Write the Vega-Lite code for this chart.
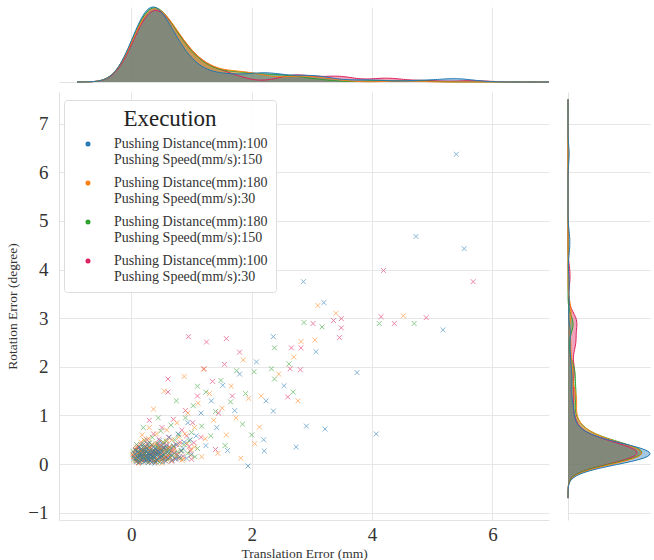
{
  "$schema": "https://vega.github.io/schema/vega-lite/v6.json",
  "padding": {"left": 5, "top": 5, "right": 2, "bottom": 0},
  "background": "white",
  "config": {
    "font": "Liberation Serif",
    "view": {"stroke": null},
    "axis": {
      "gridColor": "#e6e6e6", "gridWidth": 1,
      "domainColor": "#e2e2e2", "tickColor": "#e2e2e2",
      "labelFont": "Liberation Serif", "titleFont": "Liberation Serif",
      "labelColor": "#333333", "titleColor": "#333333", "titleFontWeight": "normal"
    }
  },
  "datasets": {
    "series": [
      {"s": "A", "label": "Pushing Distance(mm):100|Pushing Speed(mm/s):150"},
      {"s": "B", "label": "Pushing Distance(mm):180|Pushing Speed(mm/s):30"},
      {"s": "C", "label": "Pushing Distance(mm):180|Pushing Speed(mm/s):150"},
      {"s": "D", "label": "Pushing Distance(mm):100|Pushing Speed(mm/s):30"}
    ],
    "pts": [
      {"s":"D","x":0.04,"y":0.15},{"s":"D","x":0.07,"y":0.30},{"s":"D","x":0.10,"y":0.06},{"s":"D","x":0.13,"y":0.22},{"s":"D","x":0.16,"y":0.40},{"s":"D","x":0.18,"y":0.10},{"s":"D","x":0.21,"y":0.28},{"s":"D","x":0.24,"y":0.16},{"s":"D","x":0.26,"y":0.50},{"s":"D","x":0.29,"y":0.04},{"s":"D","x":0.31,"y":0.33},{"s":"D","x":0.34,"y":0.19},{"s":"D","x":0.37,"y":0.62},{"s":"D","x":0.40,"y":0.25},{"s":"D","x":0.42,"y":0.09},{"s":"D","x":0.45,"y":0.42},{"s":"D","x":0.48,"y":0.20},{"s":"D","x":0.51,"y":0.75},{"s":"D","x":0.54,"y":0.34},{"s":"D","x":0.58,"y":0.14},{"s":"D","x":0.62,"y":0.55},{"s":"D","x":0.66,"y":0.27},{"s":"D","x":0.70,"y":0.92},{"s":"D","x":0.74,"y":0.40},{"s":"D","x":0.79,"y":0.12},{"s":"D","x":0.84,"y":0.70},{"s":"D","x":0.90,"y":1.10},{"s":"D","x":0.96,"y":0.36},{"s":"D","x":1.02,"y":0.85},{"s":"D","x":1.10,"y":1.40},{"s":"D","x":1.16,"y":0.55},{"s":"D","x":1.21,"y":1.96},{"s":"D","x":1.25,"y":2.51},{"s":"D","x":0.95,"y":2.62},{"s":"D","x":1.58,"y":2.58},{"s":"D","x":0.61,"y":1.75},{"s":"D","x":0.61,"y":1.48},{"s":"D","x":1.35,"y":1.70},{"s":"D","x":1.45,"y":1.05},{"s":"D","x":1.55,"y":2.05},{"s":"D","x":1.68,"y":1.40},{"s":"D","x":1.80,"y":2.30},{"s":"D","x":2.64,"y":1.96},{"s":"D","x":2.66,"y":2.39},{"s":"D","x":2.81,"y":1.94},{"s":"D","x":2.82,"y":2.39},{"s":"D","x":3.36,"y":2.95},{"s":"D","x":3.46,"y":2.60},{"s":"D","x":3.49,"y":2.99},{"s":"D","x":4.15,"y":3.03},{"s":"D","x":4.19,"y":3.98},{"s":"D","x":4.90,"y":3.01},{"s":"D","x":5.68,"y":3.75},{"s":"D","x":0.30,"y":0.90},{"s":"D","x":1.00,"y":0.10},{"s":"D","x":1.40,"y":0.30},{"s":"D","x":3.02,"y":2.89},{"s":"D","x":2.60,"y":1.38},{"s":"D","x":3.49,"y":2.80},{"s":"D","x":4.37,"y":2.89},
      {"s":"D","x":0.05,"y":0.22},{"s":"D","x":0.08,"y":0.12},{"s":"D","x":0.10,"y":0.35},{"s":"D","x":0.12,"y":0.03},{"s":"D","x":0.14,"y":0.18},{"s":"D","x":0.17,"y":0.28},{"s":"D","x":0.19,"y":0.07},{"s":"D","x":0.22,"y":0.21},{"s":"D","x":0.24,"y":0.34},{"s":"D","x":0.27,"y":0.13},{"s":"D","x":0.29,"y":0.24},{"s":"D","x":0.32,"y":0.09},{"s":"D","x":0.34,"y":0.39},{"s":"D","x":0.36,"y":0.16},{"s":"D","x":0.39,"y":0.28},{"s":"D","x":0.41,"y":0.04},{"s":"D","x":0.43,"y":0.20},{"s":"D","x":0.46,"y":0.51},{"s":"D","x":0.49,"y":0.31},{"s":"D","x":0.52,"y":0.10},{"s":"D","x":0.55,"y":0.24},{"s":"D","x":0.59,"y":0.40},{"s":"D","x":0.63,"y":0.17},{"s":"D","x":0.67,"y":0.06},{"s":"D","x":0.71,"y":0.30},{"s":"D","x":0.76,"y":0.21},{"s":"D","x":0.81,"y":0.45},{"s":"D","x":0.86,"y":0.16},{"s":"D","x":0.92,"y":0.58},{"s":"D","x":0.98,"y":0.27},{"s":"D","x":1.04,"y":0.44},{"s":"D","x":0.20,"y":0.18},{"s":"D","x":0.26,"y":0.42},{"s":"D","x":0.31,"y":0.20},{"s":"D","x":0.38,"y":0.07},{"s":"D","x":0.44,"y":0.27},{"s":"D","x":0.50,"y":0.38},{"s":"D","x":0.57,"y":0.12},{"s":"D","x":0.64,"y":0.36},{"s":"D","x":0.15,"y":0.28},{"s":"D","x":0.23,"y":0.09},{"s":"D","x":0.35,"y":0.25},{"s":"D","x":0.47,"y":0.15},{"s":"D","x":0.56,"y":0.30},{"s":"D","x":0.73,"y":0.11},
      {"s":"C","x":0.03,"y":0.26},{"s":"C","x":0.06,"y":0.11},{"s":"C","x":0.09,"y":0.40},{"s":"C","x":0.12,"y":0.18},{"s":"C","x":0.14,"y":0.05},{"s":"C","x":0.17,"y":0.32},{"s":"C","x":0.20,"y":0.14},{"s":"C","x":0.22,"y":0.48},{"s":"C","x":0.25,"y":0.24},{"s":"C","x":0.27,"y":0.08},{"s":"C","x":0.30,"y":0.36},{"s":"C","x":0.32,"y":0.16},{"s":"C","x":0.35,"y":0.55},{"s":"C","x":0.38,"y":0.27},{"s":"C","x":0.40,"y":0.06},{"s":"C","x":0.43,"y":0.42},{"s":"C","x":0.46,"y":0.20},{"s":"C","x":0.49,"y":0.68},{"s":"C","x":0.52,"y":0.31},{"s":"C","x":0.55,"y":0.12},{"s":"C","x":0.58,"y":0.47},{"s":"C","x":0.62,"y":0.22},{"s":"C","x":0.66,"y":0.80},{"s":"C","x":0.70,"y":0.36},{"s":"C","x":0.74,"y":0.14},{"s":"C","x":0.79,"y":0.60},{"s":"C","x":0.84,"y":0.28},{"s":"C","x":0.90,"y":0.95},{"s":"C","x":0.96,"y":0.48},{"s":"C","x":1.03,"y":1.20},{"s":"C","x":1.10,"y":0.32},{"s":"C","x":1.17,"y":0.78},{"s":"C","x":1.24,"y":1.48},{"s":"C","x":1.32,"y":0.58},{"s":"C","x":1.40,"y":1.08},{"s":"C","x":1.49,"y":1.72},{"s":"C","x":1.56,"y":0.38},{"s":"C","x":1.65,"y":1.28},{"s":"C","x":1.75,"y":1.92},{"s":"C","x":1.85,"y":0.82},{"s":"C","x":1.90,"y":1.45},{"s":"C","x":2.00,"y":0.60},{"s":"C","x":2.04,"y":1.90},{"s":"C","x":2.33,"y":1.96},{"s":"C","x":2.38,"y":1.75},{"s":"C","x":2.38,"y":2.39},{"s":"C","x":2.62,"y":2.06},{"s":"C","x":4.12,"y":2.89},{"s":"C","x":0.20,"y":0.75},{"s":"C","x":0.45,"y":0.95},{"s":"C","x":0.75,"y":1.30},{"s":"C","x":1.10,"y":1.60},{"s":"C","x":2.87,"y":2.91},{"s":"C","x":3.17,"y":2.82},{"s":"C","x":2.69,"y":1.48},{"s":"C","x":4.70,"y":2.89},
      {"s":"C","x":0.04,"y":0.18},{"s":"C","x":0.07,"y":0.06},{"s":"C","x":0.09,"y":0.29},{"s":"C","x":0.11,"y":0.13},{"s":"C","x":0.13,"y":0.24},{"s":"C","x":0.16,"y":0.09},{"s":"C","x":0.18,"y":0.38},{"s":"C","x":0.21,"y":0.20},{"s":"C","x":0.23,"y":0.11},{"s":"C","x":0.26,"y":0.30},{"s":"C","x":0.28,"y":0.03},{"s":"C","x":0.29,"y":0.22},{"s":"C","x":0.31,"y":0.44},{"s":"C","x":0.33,"y":0.12},{"s":"C","x":0.36,"y":0.26},{"s":"C","x":0.39,"y":0.17},{"s":"C","x":0.41,"y":0.35},{"s":"C","x":0.44,"y":0.07},{"s":"C","x":0.47,"y":0.29},{"s":"C","x":0.50,"y":0.16},{"s":"C","x":0.53,"y":0.45},{"s":"C","x":0.56,"y":0.24},{"s":"C","x":0.60,"y":0.09},{"s":"C","x":0.64,"y":0.34},{"s":"C","x":0.68,"y":0.18},{"s":"C","x":0.72,"y":0.50},{"s":"C","x":0.77,"y":0.25},{"s":"C","x":0.82,"y":0.12},{"s":"C","x":0.88,"y":0.40},{"s":"C","x":0.94,"y":0.22},{"s":"C","x":1.00,"y":0.65},{"s":"C","x":1.06,"y":0.15},{"s":"C","x":0.19,"y":0.28},{"s":"C","x":0.26,"y":0.15},{"s":"C","x":0.34,"y":0.40},{"s":"C","x":0.42,"y":0.22},{"s":"C","x":0.48,"y":0.05},{"s":"C","x":0.57,"y":0.32},{"s":"C","x":0.65,"y":0.14},{"s":"C","x":0.15,"y":0.20},{"s":"C","x":0.37,"y":0.10},{"s":"C","x":0.45,"y":0.33},{"s":"C","x":0.53,"y":0.19},{"s":"C","x":0.24,"y":0.36},{"s":"C","x":0.62,"y":0.27},
      {"s":"B","x":0.02,"y":0.20},{"s":"B","x":0.05,"y":0.08},{"s":"B","x":0.08,"y":0.33},{"s":"B","x":0.10,"y":0.15},{"s":"B","x":0.12,"y":0.02},{"s":"B","x":0.14,"y":0.25},{"s":"B","x":0.16,"y":0.45},{"s":"B","x":0.19,"y":0.12},{"s":"B","x":0.22,"y":0.30},{"s":"B","x":0.24,"y":0.06},{"s":"B","x":0.26,"y":0.19},{"s":"B","x":0.29,"y":0.52},{"s":"B","x":0.31,"y":0.27},{"s":"B","x":0.33,"y":0.11},{"s":"B","x":0.36,"y":0.38},{"s":"B","x":0.38,"y":0.18},{"s":"B","x":0.40,"y":0.03},{"s":"B","x":0.42,"y":0.62},{"s":"B","x":0.44,"y":0.24},{"s":"B","x":0.47,"y":0.35},{"s":"B","x":0.50,"y":0.09},{"s":"B","x":0.53,"y":0.44},{"s":"B","x":0.56,"y":0.20},{"s":"B","x":0.59,"y":0.70},{"s":"B","x":0.62,"y":0.31},{"s":"B","x":0.65,"y":0.13},{"s":"B","x":0.68,"y":0.50},{"s":"B","x":0.72,"y":0.24},{"s":"B","x":0.76,"y":0.85},{"s":"B","x":0.80,"y":0.40},{"s":"B","x":0.84,"y":0.08},{"s":"B","x":0.89,"y":0.62},{"s":"B","x":0.94,"y":1.05},{"s":"B","x":0.99,"y":0.30},{"s":"B","x":1.05,"y":0.75},{"s":"B","x":1.11,"y":1.25},{"s":"B","x":1.17,"y":0.15},{"s":"B","x":1.23,"y":0.52},{"s":"B","x":1.30,"y":1.45},{"s":"B","x":1.37,"y":0.90},{"s":"B","x":1.44,"y":0.22},{"s":"B","x":1.51,"y":1.15},{"s":"B","x":1.58,"y":0.60},{"s":"B","x":1.66,"y":1.60},{"s":"B","x":1.74,"y":0.95},{"s":"B","x":1.82,"y":0.12},{"s":"B","x":1.86,"y":2.14},{"s":"B","x":1.95,"y":1.35},{"s":"B","x":2.05,"y":0.42},{"s":"B","x":2.13,"y":0.76},{"s":"B","x":2.16,"y":1.40},{"s":"B","x":0.37,"y":1.13},{"s":"B","x":0.55,"y":1.50},{"s":"B","x":0.88,"y":1.80},{"s":"B","x":1.20,"y":1.95},{"s":"B","x":0.30,"y":0.75},{"s":"B","x":0.18,"y":0.60},{"s":"B","x":2.45,"y":1.85},{"s":"B","x":2.70,"y":2.20},{"s":"B","x":3.05,"y":2.55},{"s":"B","x":3.40,"y":3.10},{"s":"B","x":2.82,"y":2.52},{"s":"B","x":3.10,"y":3.26},{"s":"B","x":2.77,"y":1.30},{"s":"B","x":4.52,"y":3.05},
      {"s":"B","x":0.05,"y":0.16},{"s":"B","x":0.07,"y":0.27},{"s":"B","x":0.09,"y":0.08},{"s":"B","x":0.11,"y":0.22},{"s":"B","x":0.13,"y":0.36},{"s":"B","x":0.15,"y":0.12},{"s":"B","x":0.17,"y":0.04},{"s":"B","x":0.20,"y":0.24},{"s":"B","x":0.23,"y":0.15},{"s":"B","x":0.25,"y":0.38},{"s":"B","x":0.27,"y":0.09},{"s":"B","x":0.30,"y":0.20},{"s":"B","x":0.32,"y":0.31},{"s":"B","x":0.34,"y":0.05},{"s":"B","x":0.37,"y":0.26},{"s":"B","x":0.39,"y":0.14},{"s":"B","x":0.41,"y":0.42},{"s":"B","x":0.43,"y":0.10},{"s":"B","x":0.46,"y":0.29},{"s":"B","x":0.48,"y":0.18},{"s":"B","x":0.51,"y":0.02},{"s":"B","x":0.54,"y":0.33},{"s":"B","x":0.57,"y":0.13},{"s":"B","x":0.60,"y":0.48},{"s":"B","x":0.63,"y":0.21},{"s":"B","x":0.67,"y":0.07},{"s":"B","x":0.71,"y":0.35},{"s":"B","x":0.75,"y":0.17},{"s":"B","x":0.79,"y":0.55},{"s":"B","x":0.83,"y":0.26},{"s":"B","x":0.87,"y":0.10},{"s":"B","x":0.93,"y":0.42},{"s":"B","x":0.99,"y":0.18},{"s":"B","x":1.05,"y":0.35},{"s":"B","x":0.21,"y":0.50},{"s":"B","x":0.28,"y":0.30},{"s":"B","x":0.35,"y":0.17},{"s":"B","x":0.44,"y":0.36},{"s":"B","x":0.52,"y":0.25},{"s":"B","x":0.61,"y":0.33},{"s":"B","x":0.18,"y":0.20},{"s":"B","x":0.39,"y":0.22},{"s":"B","x":0.49,"y":0.11},{"s":"B","x":0.58,"y":0.06},{"s":"B","x":0.69,"y":0.26},
      {"s":"A","x":0.04,"y":0.12},{"s":"A","x":0.07,"y":0.28},{"s":"A","x":0.09,"y":0.05},{"s":"A","x":0.11,"y":0.18},{"s":"A","x":0.13,"y":0.35},{"s":"A","x":0.15,"y":0.09},{"s":"A","x":0.17,"y":0.22},{"s":"A","x":0.19,"y":0.14},{"s":"A","x":0.21,"y":0.04},{"s":"A","x":0.23,"y":0.30},{"s":"A","x":0.25,"y":0.17},{"s":"A","x":0.27,"y":0.10},{"s":"A","x":0.28,"y":0.42},{"s":"A","x":0.30,"y":0.21},{"s":"A","x":0.32,"y":0.07},{"s":"A","x":0.34,"y":0.26},{"s":"A","x":0.35,"y":0.15},{"s":"A","x":0.37,"y":0.35},{"s":"A","x":0.39,"y":0.02},{"s":"A","x":0.41,"y":0.19},{"s":"A","x":0.43,"y":0.28},{"s":"A","x":0.45,"y":0.11},{"s":"A","x":0.47,"y":0.48},{"s":"A","x":0.49,"y":0.23},{"s":"A","x":0.51,"y":0.15},{"s":"A","x":0.54,"y":0.33},{"s":"A","x":0.57,"y":0.06},{"s":"A","x":0.60,"y":0.25},{"s":"A","x":0.63,"y":0.55},{"s":"A","x":0.66,"y":0.18},{"s":"A","x":0.70,"y":0.38},{"s":"A","x":0.74,"y":0.10},{"s":"A","x":0.78,"y":0.62},{"s":"A","x":0.83,"y":0.27},{"s":"A","x":0.88,"y":0.45},{"s":"A","x":0.94,"y":0.85},{"s":"A","x":1.00,"y":0.20},{"s":"A","x":1.08,"y":0.58},{"s":"A","x":1.16,"y":1.05},{"s":"A","x":1.24,"y":0.38},{"s":"A","x":1.33,"y":1.30},{"s":"A","x":1.42,"y":0.75},{"s":"A","x":1.52,"y":1.62},{"s":"A","x":1.60,"y":0.28},{"s":"A","x":1.72,"y":1.10},{"s":"A","x":1.80,"y":1.85},{"s":"A","x":1.94,"y":-0.04},{"s":"A","x":2.08,"y":2.10},{"s":"A","x":2.20,"y":0.50},{"s":"A","x":2.24,"y":1.30},{"s":"A","x":2.36,"y":1.09},{"s":"A","x":2.36,"y":2.62},{"s":"A","x":2.54,"y":1.61},{"s":"A","x":2.74,"y":0.35},{"s":"A","x":2.86,"y":3.75},{"s":"A","x":2.91,"y":0.78},{"s":"A","x":3.07,"y":2.31},{"s":"A","x":3.20,"y":3.32},{"s":"A","x":3.22,"y":0.72},{"s":"A","x":3.75,"y":1.88},{"s":"A","x":4.07,"y":0.62},{"s":"A","x":4.73,"y":4.68},{"s":"A","x":5.18,"y":2.76},{"s":"A","x":5.40,"y":6.37},{"s":"A","x":5.53,"y":4.43},{"s":"A","x":2.21,"y":0.27},
      {"s":"A","x":0.06,"y":0.20},{"s":"A","x":0.08,"y":0.10},{"s":"A","x":0.10,"y":0.26},{"s":"A","x":0.12,"y":0.14},{"s":"A","x":0.14,"y":0.04},{"s":"A","x":0.16,"y":0.30},{"s":"A","x":0.18,"y":0.19},{"s":"A","x":0.20,"y":0.11},{"s":"A","x":0.22,"y":0.24},{"s":"A","x":0.24,"y":0.06},{"s":"A","x":0.26,"y":0.33},{"s":"A","x":0.28,"y":0.16},{"s":"A","x":0.29,"y":0.09},{"s":"A","x":0.31,"y":0.28},{"s":"A","x":0.33,"y":0.19},{"s":"A","x":0.34,"y":0.03},{"s":"A","x":0.36,"y":0.24},{"s":"A","x":0.38,"y":0.13},{"s":"A","x":0.40,"y":0.31},{"s":"A","x":0.42,"y":0.08},{"s":"A","x":0.44,"y":0.20},{"s":"A","x":0.46,"y":0.38},{"s":"A","x":0.48,"y":0.14},{"s":"A","x":0.50,"y":0.27},{"s":"A","x":0.52,"y":0.05},{"s":"A","x":0.55,"y":0.19},{"s":"A","x":0.58,"y":0.36},{"s":"A","x":0.61,"y":0.12},{"s":"A","x":0.64,"y":0.28},{"s":"A","x":0.68,"y":0.08},{"s":"A","x":0.72,"y":0.22},{"s":"A","x":0.76,"y":0.40},{"s":"A","x":0.80,"y":0.15},{"s":"A","x":0.86,"y":0.32},{"s":"A","x":0.92,"y":0.12},{"s":"A","x":0.98,"y":0.50},{"s":"A","x":0.20,"y":0.40},{"s":"A","x":0.27,"y":0.22},{"s":"A","x":0.37,"y":0.17},{"s":"A","x":0.46,"y":0.26},{"s":"A","x":0.53,"y":0.40},{"s":"A","x":0.15,"y":0.16},{"s":"A","x":0.32,"y":0.12},{"s":"A","x":0.41,"y":0.24},{"s":"A","x":0.24,"y":0.26}
    ]
  },
  "resolve": {"scale": {"color": "independent"}, "legend": {"color": "independent"}},
  "spacing": 8,
  "vconcat": [
    {
      "width": 490,
      "height": 75,
      "data": {"name": "pts"},
      "transform": [
        {"lookup": "s", "from": {"data": {"name": "series"}, "key": "s", "fields": ["label"]}},
        {"density": "x", "groupby": ["label"], "bandwidth": 0.26, "extent": [-0.9, 6.94], "steps": 250}
      ],
      "mark": {"type": "area", "fillOpacity": 0.4, "line": {"strokeWidth": 1}},
      "encoding": {
        "x": {"field": "value", "type": "quantitative",
              "scale": {"domain": [-1.2, 6.94], "nice": false, "zero": false},
              "axis": {"title": null, "labels": false, "ticks": false, "domain": true, "grid": true, "values": [0, 2, 4, 6]}},
        "y": {"field": "density", "type": "quantitative", "stack": null, "scale": {"nice": false}, "axis": null},
        "color": {"field": "label", "type": "nominal",
                  "scale": {"domain": ["Pushing Distance(mm):100|Pushing Speed(mm/s):150", "Pushing Distance(mm):180|Pushing Speed(mm/s):30", "Pushing Distance(mm):180|Pushing Speed(mm/s):150", "Pushing Distance(mm):100|Pushing Speed(mm/s):30"],
                            "range": ["#1f77b4", "#ff7f0e", "#2ca02c", "#dc1f5a"]},
                  "legend": null}
      }
    },
    {
      "resolve": {"scale": {"color": "independent"}, "legend": {"color": "independent"}},
      "spacing": 17,
      "hconcat": [
        {
          "width": 490,
          "height": 428,
          "data": {"name": "pts"},
          "transform": [
            {"lookup": "s", "from": {"data": {"name": "series"}, "key": "s", "fields": ["label"]}}
          ],
          "mark": {"type": "point", "shape": "M-1,-1L1,1M1,-1L-1,1", "filled": false, "strokeWidth": 1, "size": 24, "opacity": 0.55},
          "encoding": {
            "x": {"field": "x", "type": "quantitative",
                  "scale": {"domain": [-1.2, 6.94], "nice": false, "zero": false},
                  "axis": {"title": "Translation Error (mm)", "values": [0, 2, 4, 6], "labelFontSize": 19, "titleFontSize": 13.5, "ticks": false, "labelPadding": 5, "titlePadding": 2, "domain": true, "grid": true}},
            "y": {"field": "y", "type": "quantitative",
                  "scale": {"domain": [-1.15, 7.65], "nice": false, "zero": false},
                  "axis": {"title": "Rotation Error (degree)", "values": [-1, 0, 1, 2, 3, 4, 5, 6, 7], "labelFontSize": 19, "titleFontSize": 13.5, "ticks": false, "labelPadding": 11, "titlePadding": 8, "domain": true, "grid": true}},
            "color": {"field": "label", "type": "nominal",
                      "scale": {"domain": ["Pushing Distance(mm):100|Pushing Speed(mm/s):150", "Pushing Distance(mm):180|Pushing Speed(mm/s):30", "Pushing Distance(mm):180|Pushing Speed(mm/s):150", "Pushing Distance(mm):100|Pushing Speed(mm/s):30"],
                                "range": ["#1f77b4", "#ff7f0e", "#2ca02c", "#dc1f5a"]},
                      "legend": {"title": "Execution", "orient": "none", "legendX": 5, "legendY": 8,
                                 "titleFontSize": 23, "titleFont": "Liberation Serif", "titleFontWeight": "normal", "titleColor": "#222222", "titleAnchor": "middle", "titlePadding": 6,
                                 "labelFontSize": 14, "labelFont": "Liberation Serif", "labelColor": "#333333",
                                 "labelExpr": "split(datum.label, '|')", "labelLimit": 400,
                                 "symbolType": "circle", "symbolSize": 8, "symbolStrokeWidth": 2.2, "symbolOpacity": 1,
                                 "symbolOffset": 9, "labelOffset": 19, "rowPadding": 9, "padding": 8,
                                 "fillColor": "rgba(255,255,255,0.9)", "strokeColor": "#dddddd", "cornerRadius": 3}}
          }
        },
        {
          "width": 82,
          "height": 428,
          "data": {"name": "pts"},
          "transform": [
            {"lookup": "s", "from": {"data": {"name": "series"}, "key": "s", "fields": ["label"]}},
            {"density": "y", "groupby": ["label"], "bandwidth": 0.18, "extent": [-0.7, 7.5], "steps": 250}
          ],
          "encoding": {
            "y": {"field": "value", "type": "quantitative",
                  "scale": {"domain": [-1.15, 7.65], "nice": false, "zero": false},
                  "axis": {"title": null, "labels": false, "ticks": false, "domain": true, "grid": true, "values": [-1, 0, 1, 2, 3, 4, 5, 6, 7]}},
            "x": {"field": "density", "type": "quantitative", "stack": null, "scale": {"nice": false}, "axis": null},
            "color": {"field": "label", "type": "nominal",
                      "scale": {"domain": ["Pushing Distance(mm):100|Pushing Speed(mm/s):150", "Pushing Distance(mm):180|Pushing Speed(mm/s):30", "Pushing Distance(mm):180|Pushing Speed(mm/s):150", "Pushing Distance(mm):100|Pushing Speed(mm/s):30"],
                                "range": ["#1f77b4", "#ff7f0e", "#2ca02c", "#dc1f5a"]},
                      "legend": null}
          },
          "layer": [
            {"mark": {"type": "area", "orient": "horizontal", "fillOpacity": 0.4}},
            {"mark": {"type": "line", "strokeWidth": 1}, "encoding": {"order": {"field": "value", "type": "quantitative"}}}
          ]
        }
      ]
    }
  ]
}
